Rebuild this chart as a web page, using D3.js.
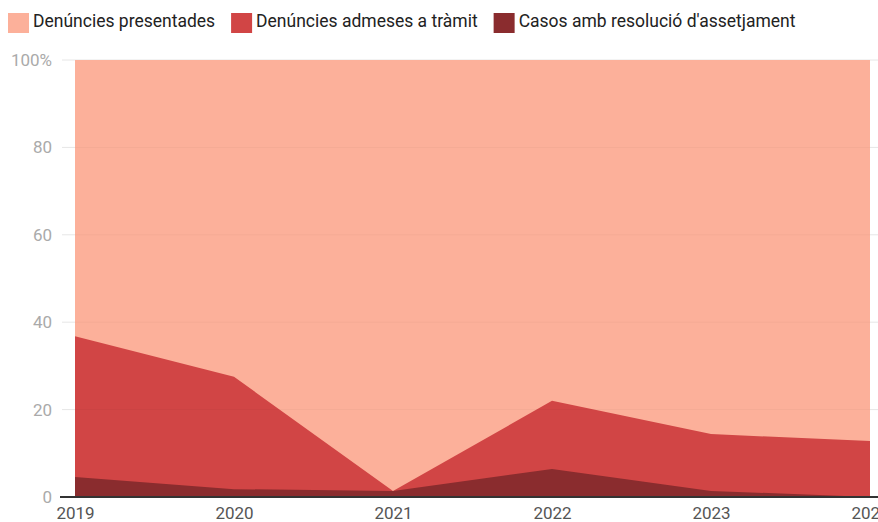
<!DOCTYPE html>
<html>
<head>
<meta charset="utf-8">
<script src="https://cdn.jsdelivr.net/npm/d3@7"></script>
<style>
  body { margin: 0; background: #fff; font-family: Roboto, "Noto Sans", sans-serif; }
</style>
</head>
<body>
<div id="chart"></div>
<script>
const years = ["2019", "2020", "2021", "2022", "2023", "2024"];
const seriesNames = ["Denúncies presentades", "Denúncies admeses a tràmit", "Casos amb resolució d'assetjament"];
const presentades = [100, 100, 100, 100, 100, 100];
const admeses = [36.8, 27.5, 1.4, 22, 14.4, 12.8];
const casos = [4.6, 1.8, 1.4, 6.4, 1.4, 0];
const yTicks = [0, 20, 40, 60, 80, 100];
const colors = ["#fcb09a", "#d14545", "#8a2c2e"];

const width = 878, height = 522;
const svg = d3.select("#chart").append("svg")
    .attr("width", width)
    .attr("height", height);

const x = d3.scalePoint().domain(years).range([75, 870]);
const y = d3.scaleLinear().domain([0, 100]).range([497, 60]);

// Legend
let lx = 8;
seriesNames.forEach((name, i) => {
    const g = svg.append("g").attr("transform", `translate(${lx}, 13)`);
    g.append("rect").attr("width", 21).attr("height", 20).attr("fill", colors[i]);
    const t = g.append("text")
        .attr("x", 25).attr("y", 14)
        .style("font-size", "17.5px")
        .attr("fill", "#222")
        .text(name);
    lx += 25 + t.node().getComputedTextLength() + 16;
});

// Grid lines
svg.append("g").selectAll("line")
    .data(yTicks.filter(d => d > 0))
    .join("line")
    .attr("x1", 62).attr("x2", width)
    .attr("y1", d => y(d)).attr("y2", d => y(d))
    .attr("stroke", "#e6e6e6")
    .attr("stroke-width", 1);

// Areas
const area = d3.area()
    .x((d, i) => x(years[i]))
    .y0(y(0))
    .y1(d => y(d));
[presentades, admeses, casos].forEach((vals, i) => {
    svg.append("path")
        .datum(vals)
        .attr("d", area)
        .attr("fill", colors[i]);
});

// faint grid lines over areas
svg.append("g").selectAll("line")
    .data(yTicks.filter(d => d > 0 && d < 100))
    .join("line")
    .attr("x1", 75).attr("x2", 870)
    .attr("y1", d => y(d)).attr("y2", d => y(d))
    .attr("stroke", "rgba(0,0,0,0.03)");

// Y axis labels
svg.append("g")
    .attr("transform", "translate(52,0)")
    .call(d3.axisLeft(y).tickValues(yTicks).tickSize(0).tickFormat(d => d === 100 ? "100%" : d))
    .call(g => g.select(".domain").remove())
    .selectAll("text")
    .style("font-size", "17px")
    .style("font-family", "Roboto, sans-serif")
    .attr("fill", "#aaa")
    .attr("x", 0);

// Baseline
svg.append("line")
    .attr("x1", 60).attr("x2", width)
    .attr("y1", y(0)).attr("y2", y(0))
    .attr("stroke", "#333")
    .attr("stroke-width", 2);

// X axis labels
svg.append("g")
    .attr("transform", `translate(0, ${y(0) + 7})`)
    .call(d3.axisBottom(x).tickSize(0))
    .call(g => g.select(".domain").remove())
    .selectAll("text")
    .style("font-size", "17px")
    .style("font-family", "Roboto, sans-serif")
    .attr("fill", "#555");
</script>
</body>
</html>
